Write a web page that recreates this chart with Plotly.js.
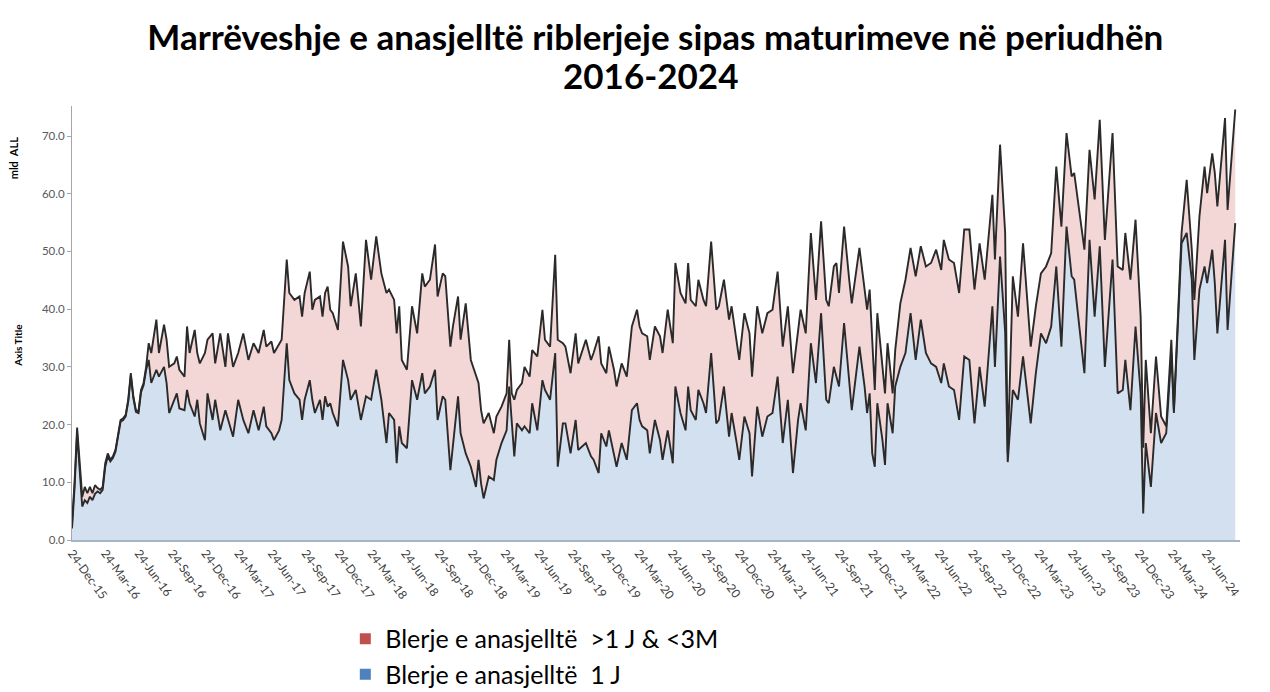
<!DOCTYPE html>
<html>
<head>
<meta charset="utf-8">
<script src="https://cdn.plot.ly/plotly-3.0.1.min.js"></script>
<style>html,body{margin:0;padding:0;background:#fff}#chart{width:1270px;height:692px}</style>
</head>
<body>
<div id="chart"></div>
<script>
// Week index counted from 24-Dec-2015 (weekly observations)
const weeks = [0,1,2,4,5,6,7,8,9,10,11,12,13,14,15,16,17,18,19,20,21,22,23,24,25,26,27,28,29,30,31,33,34,36,37,38,40,41,42,44,45,46,48,49,50,52,53,55,56,58,60,61,63,65,67,69,71,73,75,76,78,79,81,82,84,85,87,89,90,91,93,94,95,97,98,99,100,101,102,104,106,108,109,111,113,115,117,119,121,123,124,126,127,128,129,131,133,135,137,138,140,142,143,145,146,148,149,151,152,154,156,158,159,160,161,163,165,166,168,170,171,172,173,174,176,177,179,180,182,184,185,187,189,190,192,193,195,197,198,201,203,204,206,207,209,210,212,213,215,217,219,221,222,223,225,226,228,230,231,233,235,236,238,240,241,242,244,245,247,248,250,252,253,255,257,258,260,261,263,265,266,268,270,272,274,276,278,280,282,284,285,287,289,291,293,295,296,298,299,300,302,304,305,308,310,311,312,313,314,315,317,318,319,321,322,324,326,328,330,332,334,336,338,340,341,343,345,347,349,351,353,355,357,360,361,363,365,366,368,370,372,375,377,379,381,383,385,387,389,391,392,396,398,400,402,404,407,409,411,412,414,416,418,419,420,422,424,426,428,430,431,434,436,438,439,441,443,444,446,447,448,451,452,455];

// "Blerje e anasjelltë 1 J" (mld ALL)
const overnight = [2,9,18.5,5.8,6.9,6.4,7.5,6.9,8,8.4,8.1,8.7,12.7,14.5,13.6,14.2,15.3,17.6,20.5,20.8,21.4,24,28.5,24.6,22.2,22,25.6,26.8,29.5,31.2,27.2,29.5,28.3,30,27.2,22,24.3,25.4,22.8,22.5,26,23.7,21.4,24.3,20.2,17.3,25.4,20.8,24.3,19,22.5,20.8,17.9,24.3,20.8,18.5,22.5,19,23.1,19.7,18.5,17.3,19,20.8,34.1,27.7,25.4,24.3,20.8,24.3,27.7,24.3,22,24.3,20.8,24.9,23.1,23.7,22,19.7,31.2,27.7,24.3,26,20.8,24.9,24.3,29.5,24.3,16.8,22,20.8,13.3,19.7,16.8,15.9,27.7,24.3,28.9,25.4,26.6,29.5,20.8,24.9,24.3,12.1,16.2,24.9,18.5,15,12.7,9.2,13.9,9.8,7.2,11,10.4,13.9,16.8,19,26.6,19.7,14.5,20.2,19,19.7,18.5,23.7,19,27.7,26,24.3,32.4,12.7,20.2,20.2,15,20.8,15.6,16.8,14.5,13.9,11.6,18.5,16.2,19,15,12.7,16.8,13.9,22.5,23.7,20.8,19.7,19,15,20.8,17.3,13.9,19,13.3,26.6,22,19,26.6,22.5,20.8,26,23.7,22,32.4,20.2,20.8,26.6,17.9,22,16.8,13.9,21.4,18.5,11,23.1,17.9,21.4,22,28.3,16.8,24.3,11.6,20.8,23.7,19,34.1,27.2,39.3,24.3,23.7,30,28.3,26.6,37.6,27.2,22.5,33.5,26.6,22,25.4,15,12.7,23.7,17.3,13,23.7,18.5,26.6,30,32.4,39.3,31.2,38.2,32.4,30.6,30,27.2,30.6,26.6,26,20.8,31.8,31.2,20.2,30,23.1,40.5,30,49.1,36,13.5,26,24.3,31.8,20.2,28.9,35.8,34.1,37,47.4,33.5,54.3,45.7,45.1,28.9,52,38.7,50.9,30,48.6,25.4,26,31.2,22.5,37,25.4,4.6,16.8,9.2,22,16.8,18.5,32.4,22,51.4,53.2,45.1,31.2,43.4,47.4,44.5,50.3,44.5,35.8,52,36.4,54.9];

// Upper edge of the stack: 1 J + ">1 J & <3M" (mld ALL)
const stackTop = [3,10,19.5,7.5,9.2,8.1,9.2,8.1,9.5,9,8.7,9.2,13.3,15,13.9,14.5,15.6,17.9,20.8,21.1,21.7,24.3,28.9,24.9,22.5,22.3,26,27.2,30,34.1,32.4,38.2,32.4,37.3,34.7,30,30.6,31.8,29.5,28.3,37,32.4,36.4,32.4,30.6,32.4,34.7,35.8,30.6,35.8,30,35.8,30,32.4,35.8,31.2,34.1,32.4,36.4,33.5,34.4,32.4,34.1,34.7,48.6,42.8,41.6,42.2,38.7,42.8,46.5,39.9,41.6,42.2,38.7,42.8,43.9,39.9,39.3,36.4,51.7,47.4,40.5,46.2,37,52,45.1,52.6,46.2,42.8,43.4,41.6,35.8,40.5,31.2,29.5,40.5,35.8,46.2,43.9,45.1,51.2,42.2,46.2,45.7,33.5,37,42.2,34.7,41,31.2,28.3,27.2,22.5,20.2,22,18.5,21.4,23.1,25.4,34.7,25.4,24.3,26,27.2,30,28.3,32.9,31.8,39.9,34.7,33.5,49.4,34.7,34.1,33.5,28.9,35.8,30.6,34.7,31.2,32.4,35.3,30.6,28.9,33.5,29.5,26.6,30.6,28.3,37,39.9,37,35.8,35.3,31.2,37,35.3,32.4,39.9,34.1,48,42.8,41,48,41.6,40.5,45.1,41.6,40.5,51.7,39.9,40.5,45.1,38.2,40.5,34.7,31.2,39.3,35.8,28.3,40.5,35.8,39.3,39.9,46.5,33.5,40.5,28.9,35.8,39.9,35.8,53.2,41.6,55.2,41.6,40.5,47.4,48,42.8,54.3,45.1,41,50.6,43.9,39.9,43.4,33.5,26,39.3,30,25.4,34.1,25.4,32.9,41,45.1,50.6,45.7,50.9,47.4,48,50.3,46.8,52,48.6,48,42.8,53.8,53.8,43.4,51.4,45.1,59.8,48.6,68.5,53.2,15,45.7,38.7,51.4,33.5,40.5,46.2,47.4,49.7,64.7,54.3,70.5,63,63.6,50.3,67.6,59,72.8,52,70.5,47.4,46.8,53.2,45.1,55.5,38.7,16,31.2,18.5,31.8,21.4,19.7,34.7,22.5,53.2,62.4,50.3,41.6,56.1,64.7,60.1,67,63.6,57.8,73.1,57.2,74.6];

const seriesNames = ['Blerje e anasjelltë  >1 J & <3M', 'Blerje e anasjelltë  1 J'];
const titleLine1 = 'Marrëveshje e anasjelltë riblerjeje sipas maturimeve në periudhën';
const titleLine2 = '2016-2024';

const startMs = Date.UTC(2015, 11, 24);
const dates = weeks.map(w => new Date(startMs + w * 7 * 86400000).toISOString().slice(0, 10));

const FONT = 'Lato, "Open Sans", "Liberation Sans", sans-serif';

const traces = [
  {x: dates, y: overnight, type: 'scatter', mode: 'lines', fill: 'tozeroy',
   fillcolor: '#D3E0F0', line: {color: '#2a2a2a', width: 1.9}, showlegend: false, hoverinfo: 'x+y'},
  {x: dates, y: stackTop, type: 'scatter', mode: 'lines', fill: 'tonexty',
   fillcolor: '#F3D6D6', line: {color: '#2a2a2a', width: 1.9}, showlegend: false, hoverinfo: 'x+y'},
  {x: [null], y: [null], type: 'scatter', mode: 'markers', name: seriesNames[0],
   marker: {symbol: 'square', size: 11, color: '#C0504D'}},
  {x: [null], y: [null], type: 'scatter', mode: 'markers', name: seriesNames[1],
   marker: {symbol: 'square', size: 11, color: '#4F81BD'}}
];

const layout = {
  width: 1270, height: 692,
  paper_bgcolor: '#ffffff', plot_bgcolor: '#ffffff',
  margin: {l: 72, r: 30, t: 106, b: 152, autoexpand: false},
  font: {family: FONT, color: '#404040'},
  title: {text: '<b>' + titleLine1 + '</b>', font: {family: FONT, size: 35, color: '#000000'},
          xref: 'container', x: 0.516, xanchor: 'center', yref: 'container', y: 0.946, yanchor: 'middle'},
  xaxis: {type: 'date', range: ['2015-12-24', '2024-09-25'], tick0: '2015-12-24', dtick: 'M3',
          tickformat: '%d-%b-%y', tickangle: 54, tickfont: {size: 12, color: '#404040'},
          showgrid: false, zeroline: false, showline: true, linecolor: '#A6B4C8', linewidth: 1.5,
          ticks: '', fixedrange: true, automargin: false},
  yaxis: {range: [0, 75.2], tickvals: [0,10,20,30,40,50,60,70], tickformat: '.1f',
          tickfont: {size: 11.5, color: '#595959'}, showgrid: false, zeroline: false,
          showline: true, linecolor: '#A6A6A6', linewidth: 1, ticks: 'outside', ticklen: 4,
          tickcolor: '#A6A6A6', fixedrange: true, automargin: false},
  legend: {x: 0.234, xanchor: 'left', y: -0.175, yanchor: 'top', orientation: 'v', traceorder: 'normal',
           font: {family: FONT, size: 25, color: '#000000'}, itemwidth: 30, tracegroupgap: 0,
           bgcolor: 'rgba(0,0,0,0)'},
  annotations: [
    {text: '<b>' + titleLine2 + '</b>', xref: 'paper', yref: 'paper', x: 0.495, y: 1.071,
     xanchor: 'center', yanchor: 'middle', showarrow: false, font: {family: FONT, size: 35, color: '#000000'}},
    {text: '<b>mld  ALL</b>', xref: 'paper', yref: 'paper', x: -0.0503, y: 0.88, textangle: -90,
     xanchor: 'center', yanchor: 'middle', showarrow: false, font: {family: FONT, size: 11, color: '#000000'}},
    {text: '<b>Axis Title</b>', xref: 'paper', yref: 'paper', x: -0.047, y: 0.448, textangle: -90,
     xanchor: 'center', yanchor: 'middle', showarrow: false, font: {family: FONT, size: 10, color: '#000000'}}
  ]
};

Plotly.newPlot('chart', traces, layout, {displayModeBar: false, staticPlot: true});
</script>
</body>
</html>
